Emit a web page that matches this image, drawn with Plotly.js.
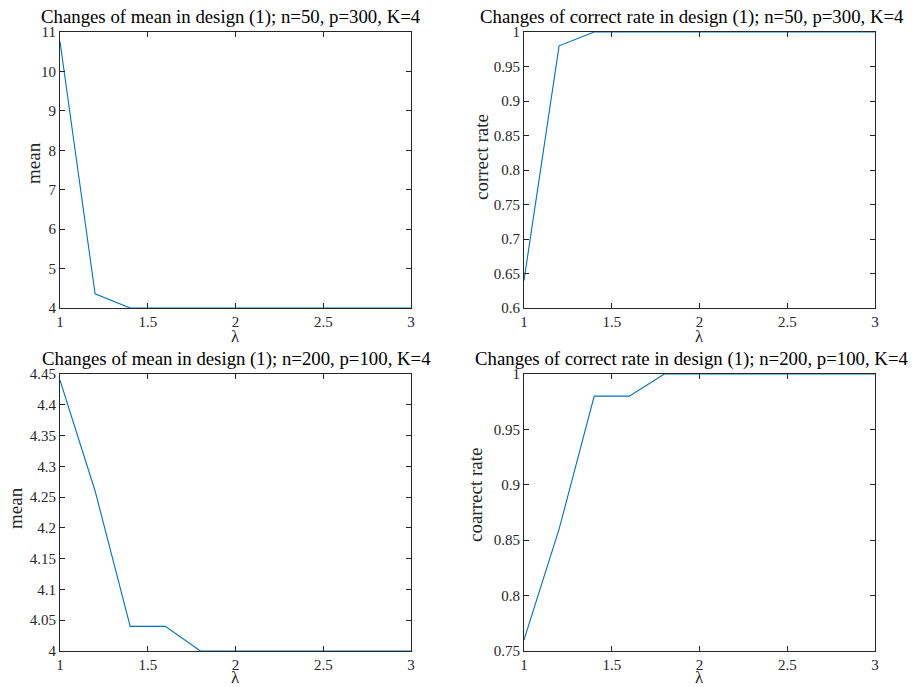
<!DOCTYPE html>
<html>
<head>
<meta charset="utf-8">
<script src="https://cdn.plot.ly/plotly-3.0.1.min.js"></script>
<style>html,body{margin:0;padding:0;background:#fff;}#chart{width:916px;height:687px;}</style>
</head>
<body>
<div id="chart"></div>
<script>
const lambda = [1, 1.2, 1.4, 1.6, 1.8, 2.0, 2.2, 2.4, 2.6, 2.8, 3.0];
const mean1 = [10.76, 4.36, 4, 4, 4, 4, 4, 4, 4, 4, 4];
const rate1 = [0.64, 0.98, 1, 1, 1, 1, 1, 1, 1, 1, 1];
const mean2 = [4.44, 4.26, 4.04, 4.04, 4, 4, 4, 4, 4, 4, 4];
const rate2 = [0.76, 0.86, 0.98, 0.98, 1, 1, 1, 1, 1, 1, 1];

const titles = [
  "Changes of mean in design (1); n=50, p=300, K=4",
  "Changes of correct rate in design (1); n=50, p=300, K=4",
  "Changes of mean in design (1); n=200, p=100, K=4",
  "Changes of correct rate in design (1); n=200, p=100, K=4"
];
const yLabels = ["mean", "correct rate", "mean", "coarrect rate"];
const xLabel = "λ";
const xTicks = [1, 1.5, 2, 2.5, 3];
const xTickText = ["1", "1.5", "2", "2.5", "3"];
const yTicks1 = [4, 5, 6, 7, 8, 9, 10, 11];
const yTickText1 = ["4", "5", "6", "7", "8", "9", "10", "11"];
const yTicks2 = [0.6, 0.65, 0.7, 0.75, 0.8, 0.85, 0.9, 0.95, 1];
const yTickText2 = ["0.6", "0.65", "0.7", "0.75", "0.8", "0.85", "0.9", "0.95", "1"];
const yTicks3 = [4, 4.05, 4.1, 4.15, 4.2, 4.25, 4.3, 4.35, 4.4, 4.45];
const yTickText3 = ["4", "4.05", "4.1", "4.15", "4.2", "4.25", "4.3", "4.35", "4.4", "4.45"];
const yTicks4 = [0.75, 0.8, 0.85, 0.9, 0.95, 1];
const yTickText4 = ["0.75", "0.8", "0.85", "0.9", "0.95", "1"];

const W = 916, H = 687;
const boxes = [
  {l: 60, r: 411, t: 32, b: 308, tx: 231, ylx: 33, yly: 163, xly: 336},
  {l: 524, r: 875, t: 32, b: 308, tx: 692, ylx: 481, yly: 157, xly: 336},
  {l: 60, r: 411, t: 374, b: 651, tx: 236, ylx: 15, yly: 508, xly: 677},
  {l: 524, r: 875, t: 374, b: 651, tx: 691, ylx: 475, yly: 495, xly: 677}
];
const yRanges = [[4, 11], [0.6, 1], [4, 4.45], [0.75, 1]];
const yT = [[yTicks1, yTickText1], [yTicks2, yTickText2], [yTicks3, yTickText3], [yTicks4, yTickText4]];
const series = [mean1, rate1, mean2, rate2];

const FONT = "Liberation Serif, Times New Roman, serif";
const AX = "#262626";
const data = [];
const layout = {
  width: W, height: H,
  margin: {l: 0, r: 0, t: 0, b: 0},
  paper_bgcolor: "#fff", plot_bgcolor: "#fff",
  showlegend: false,
  font: {family: FONT, color: AX, size: 15},
  annotations: []
};

boxes.forEach((bx, i) => {
  const n = i + 1;
  const xa = "xaxis" + (n === 1 ? "" : n);
  const ya = "yaxis" + (n === 1 ? "" : n);
  data.push({
    x: lambda, y: series[i], type: "scatter", mode: "lines",
    line: {color: "#0072BD", width: 1.1},
    xaxis: "x" + (n === 1 ? "" : n), yaxis: "y" + (n === 1 ? "" : n),
    cliponaxis: false
  });
  const common = {
    showline: true, linecolor: AX, linewidth: 1, mirror: "ticks",
    ticks: "inside", ticklen: 5, tickwidth: 1, tickcolor: AX,
    showgrid: false, zeroline: false,
    tickfont: {family: FONT, size: 15, color: AX}
  };
  layout[xa] = Object.assign({}, common, {
    domain: [bx.l / W, bx.r / W], range: [1, 3],
    tickmode: "array", tickvals: xTicks, ticktext: xTickText,
    anchor: "y" + (n === 1 ? "" : n)
  });
  layout[ya] = Object.assign({}, common, {
    domain: [1 - bx.b / H, 1 - bx.t / H], range: yRanges[i],
    tickmode: "array", tickvals: yT[i][0], ticktext: yT[i][1],
    anchor: "x" + (n === 1 ? "" : n)
  });
  layout.annotations.push({
    text: xLabel, xref: "paper", yref: "paper",
    x: (bx.l + bx.r) / 2 / W, y: 1 - bx.xly / H,
    xanchor: "center", yanchor: "middle", showarrow: false,
    font: {family: FONT, size: 17, color: AX}
  });
  layout.annotations.push({
    text: yLabels[i], xref: "paper", yref: "paper",
    x: bx.ylx / W, y: 1 - bx.yly / H, textangle: -90,
    xanchor: "center", yanchor: "middle", showarrow: false,
    font: {family: FONT, size: 19, color: AX}
  });
  layout.annotations.push({
    text: titles[i], xref: "paper", yref: "paper",
    x: bx.tx / W, y: 1 - (bx.t - 2) / H,
    xanchor: "center", yanchor: "bottom", showarrow: false,
    font: {family: FONT, size: 18.8, color: "#000"}
  });
});

Plotly.newPlot("chart", data, layout, {displayModeBar: false, staticPlot: true});
</script>
</body>
</html>
